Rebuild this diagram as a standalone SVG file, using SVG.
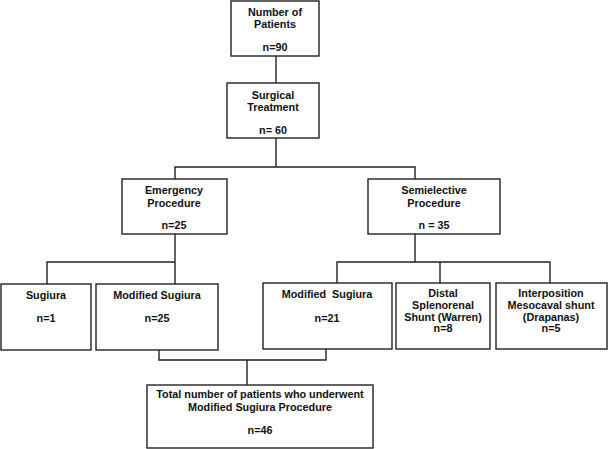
<svg xmlns="http://www.w3.org/2000/svg" width="609" height="449" viewBox="0 0 609 449">
<style>
.box{fill:#fff;stroke:#222;stroke-width:1.4}
.ln{fill:none;stroke:#222;stroke-width:1.4}
text{font-family:"Liberation Sans",Arial,sans-serif;font-weight:bold;font-size:10.8px;fill:#111;text-anchor:middle}
</style>
<rect width="609" height="449" fill="#fff"/>
<g id="connectors">
<path class="ln" d="M276,56V83"/>
<path class="ln" d="M276,138V167M175,179V167H415V179"/>
<path class="ln" d="M175,234V262M47,284V262H175V284"/>
<path class="ln" d="M415,234V262M337,283V262H550V283M440,262V283"/>
<path class="ln" d="M159,350V360H326V349M247,360V385"/>
</g>
<g id="n1"><rect class="box" x="231" y="1" width="88" height="55"/><text x="275" y="16">Number of</text><text x="275" y="28">Patients</text><text x="275" y="51">n=90</text></g>
<g id="n2"><rect class="box" x="227" y="83" width="92" height="55"/><text x="273" y="99">Surgical</text><text x="273" y="111">Treatment</text><text x="273" y="134">n= 60</text></g>
<g id="n3"><rect class="box" x="122" y="179" width="105" height="55"/><text x="174" y="194">Emergency</text><text x="174" y="207">Procedure</text><text x="174" y="229">n=25</text></g>
<g id="n4"><rect class="box" x="368" y="179" width="132" height="55"/><text x="434" y="194">Semielective</text><text x="434" y="207">Procedure</text><text x="434" y="229">n = 35</text></g>
<g id="n5"><rect class="box" x="1" y="284" width="90" height="66"/><text x="46" y="299">Sugiura</text><text x="46" y="322">n=1</text></g>
<g id="n6"><rect class="box" x="96" y="284" width="122" height="66"/><text x="157" y="299">Modified Sugiura</text><text x="157" y="322">n=25</text></g>
<g id="n7"><rect class="box" x="263" y="283" width="129" height="66"/><text x="327" y="298" xml:space="preserve">Modified  Sugiura</text><text x="327" y="322">n=21</text></g>
<g id="n8"><rect class="box" x="396" y="283" width="94" height="66"/><text x="443" y="297">Distal</text><text x="443" y="309">Splenorenal</text><text x="443" y="321">Shunt (Warren)</text><text x="443" y="332">n=8</text></g>
<g id="n9"><rect class="box" x="496" y="283" width="111" height="66"/><text x="551" y="297">Interposition</text><text x="551" y="309">Mesocaval shunt</text><text x="551" y="321">(Drapanas)</text><text x="551" y="332">n=5</text></g>
<g id="n10"><rect class="box" x="147" y="385" width="226" height="63"/><text x="260" y="398">Total number of patients who underwent</text><text x="260" y="411">Modified Sugiura Procedure</text><text x="260" y="434">n=46</text></g>
</svg>
